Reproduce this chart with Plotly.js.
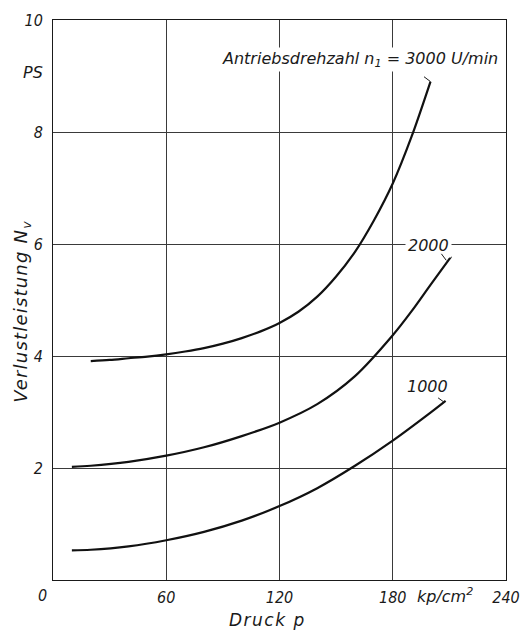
<!DOCTYPE html>
<html>
<head>
<meta charset="utf-8">
<script src="https://cdn.plot.ly/plotly-3.0.1.min.js"></script>
<style>html,body{margin:0;padding:0;background:#fff;}#chart{width:520px;height:632px;}</style>
</head>
<body>
<div id="chart"></div>
<script>
// Druck p (kp/cm^2) and Verlustleistung N_v (PS)
const x3000 = [20, 30, 40, 50, 60, 70, 80, 90, 100, 110, 120, 130, 140, 150, 160, 170, 180, 190, 200];
const y3000 = [3.91, 3.93, 3.96, 3.99, 4.03, 4.08, 4.14, 4.22, 4.32, 4.44, 4.59, 4.79, 5.06, 5.42, 5.86, 6.42, 7.08, 7.92, 8.90];
const x2000 = [10, 20, 40, 60, 80, 100, 120, 140, 160, 180, 190, 200, 211];
const y2000 = [2.02, 2.04, 2.11, 2.22, 2.37, 2.57, 2.81, 3.14, 3.64, 4.37, 4.80, 5.27, 5.78];
const x1000 = [10, 20, 40, 60, 80, 100, 120, 140, 160, 180, 200, 208];
const y1000 = [0.53, 0.54, 0.60, 0.71, 0.86, 1.06, 1.32, 1.64, 2.04, 2.49, 2.99, 3.20];

const xTicks = [60, 120, 180, 240];
const yTicks = [2, 4, 6, 8, 10];
const seriesNames = ["3000", "2000", "1000"];
const curveLabel = "Antriebsdrehzahl n<sub>1</sub> = 3000 U/min";
const xTitle = "Druck p";
const yTitle = "Verlustleistung N<sub>v</sub>";
const xUnit = "kp/cm<sup>2</sup>";
const yUnit = "PS";

const COND = "DejaVu Sans Condensed, DejaVu Sans, sans-serif";
const WIDE = "DejaVu Sans, sans-serif";
const ink = "#1a1a1a";
const tickFont = {family: COND, size: 16, color: ink, style: "italic"};
const labelFont = {family: WIDE, size: 16, color: ink, style: "italic"};
const titleFont = {family: WIDE, size: 17, color: ink, style: "italic"};

function spaced(t, px) { return '<span style="letter-spacing:' + px + 'px">' + t + '</span>'; }

function curve(x, y, name) {
  return {x: x, y: y, name: name, type: "scatter", mode: "lines",
    line: {color: "#111", width: 2.2, shape: "spline", smoothing: 0.9},
    hoverinfo: "skip", showlegend: false};
}

const data = [
  curve(x3000, y3000, seriesNames[0]),
  curve(x2000, y2000, seriesNames[1]),
  curve(x1000, y1000, seriesNames[2])
];

function leader(x, y, xs, ys, ax, ay) {
  return {x: x, y: y, xref: "x", yref: "y", text: "", showarrow: true,
    arrowhead: 0, arrowwidth: 1, arrowcolor: ink, ax: ax, ay: ay,
    xshift: xs, yshift: ys, standoff: 0, startstandoff: 0};
}

const n3 = x3000.length - 1, n2 = x2000.length - 1, n1 = x1000.length - 1;

const layout = {
  width: 520, height: 632,
  margin: {l: 53, r: 14, t: 20, b: 52},
  paper_bgcolor: "#fff", plot_bgcolor: "#fff",
  font: tickFont,
  showlegend: false,
  xaxis: {range: [0, 240], tickvals: xTicks, ticktext: xTicks.map(String),
    showgrid: true, gridcolor: "#3a3a3a", gridwidth: 1,
    showline: true, linecolor: ink, linewidth: 1, mirror: true,
    zeroline: false, ticks: "", tickfont: tickFont, ticklabelstandoff: 3, fixedrange: true},
  yaxis: {range: [0, 10], tickvals: yTicks, ticktext: yTicks.map(String),
    showgrid: true, gridcolor: "#3a3a3a", gridwidth: 1,
    showline: true, linecolor: ink, linewidth: 1, mirror: true,
    zeroline: false, ticks: "", tickfont: tickFont, ticklabelstandoff: 6, fixedrange: true},
  annotations: [
    {x: 162.6, y: 9.29, xref: "x", yref: "y", text: curveLabel, showarrow: false,
      font: labelFont, xanchor: "center", yanchor: "middle", bgcolor: "#fff"},
    {x: 199.2, y: 5.98, xref: "x", yref: "y", text: seriesNames[1], showarrow: false,
      font: labelFont, xanchor: "center", yanchor: "middle", bgcolor: "#fff", borderpad: 2},
    {x: 198.4, y: 3.45, xref: "x", yref: "y", text: seriesNames[2], showarrow: false,
      font: labelFont, xanchor: "center", yanchor: "middle"},
    leader(x3000[n3], y3000[n3], 0, 0, -8, -6),
    leader(x2000[n2], y2000[n2], -5, -4, -6, -8),
    leader(x1000[n1], y1000[n1], -2, -1, -7, -5),
    {x: 0, y: 9.07, xref: "x", yref: "y", text: yUnit, showarrow: false,
      font: labelFont, xanchor: "right", yanchor: "middle", xshift: -8},
    {x: 0, y: 0, xref: "x", yref: "paper", text: "0", showarrow: false,
      font: tickFont, xanchor: "center", yanchor: "middle", xshift: -11, yshift: -15},
    {x: 207.7, y: 0, xref: "x", yref: "paper", text: xUnit, showarrow: false,
      font: labelFont, xanchor: "center", yanchor: "middle", yshift: -15},
    {x: 113.9, y: 0, xref: "x", yref: "paper", text: spaced(xTitle, 1.5), showarrow: false,
      font: titleFont, xanchor: "center", yanchor: "middle", yshift: -40},
    {x: 0, y: 4.79, xref: "paper", yref: "y", text: spaced(yTitle, 1.2), showarrow: false, textangle: -90,
      font: Object.assign({}, titleFont, {size: 18}), xanchor: "center", yanchor: "middle", xshift: -31}
  ]
};

Plotly.newPlot("chart", data, layout, {staticPlot: true, displayModeBar: false});
</script>
</body>
</html>
